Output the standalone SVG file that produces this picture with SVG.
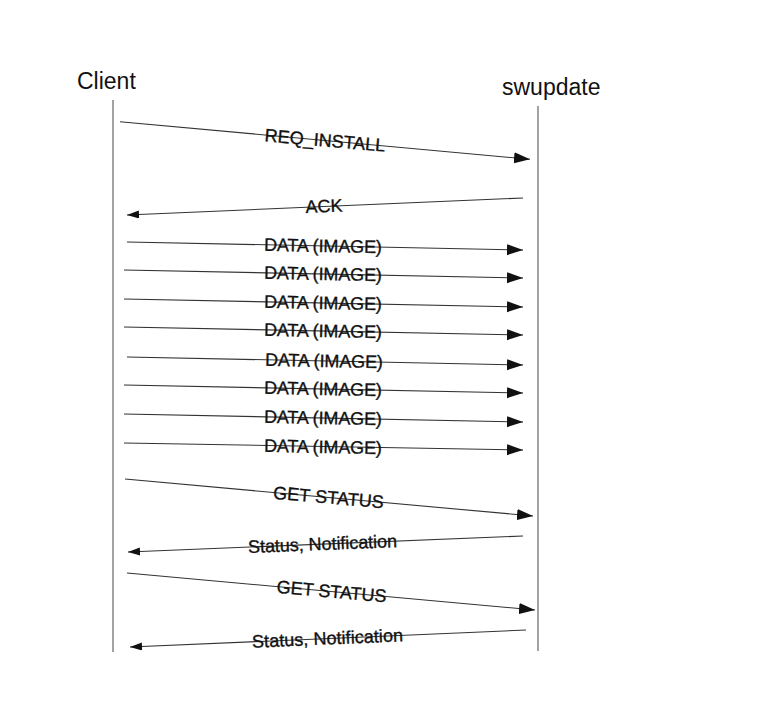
<svg xmlns="http://www.w3.org/2000/svg" width="783" height="718" viewBox="0 0 783 718">
<style>
.actor{font-family:"Liberation Sans",Arial,sans-serif;font-size:23px;fill:#111}
.lbl{font-family:"Liberation Sans",Arial,sans-serif;font-size:18px;fill:#111;stroke:#111;stroke-width:0.35;text-anchor:middle}
.life{stroke:#666;stroke-width:1.2;fill:none}
.msg{stroke:#333;stroke-width:1.1;fill:none}
.big{marker-end:url(#ab)}
.small{marker-end:url(#as)}
</style>
<defs>
<marker id="ab" markerUnits="userSpaceOnUse" markerWidth="17" markerHeight="12" refX="16" refY="5.5" orient="auto"><path d="M0,0 L16,5.5 L0,11 z" fill="#111"/></marker>
<marker id="as" markerUnits="userSpaceOnUse" markerWidth="13" markerHeight="9" refX="12" refY="4" orient="auto"><path d="M0,0 L12,4 L0,8 z" fill="#111"/></marker>
</defs>
<rect width="783" height="718" fill="#fff"/>
<g id="client">
<text class="actor" x="77" y="89">Client</text>
<line class="life" x1="113" y1="100" x2="113" y2="652"/>
</g>
<g id="swupdate">
<text class="actor" x="502" y="95">swupdate</text>
<line class="life" x1="538" y1="106" x2="538" y2="651"/>
</g>
<g id="connectors">
<line class="msg big" x1="120" y1="121.7" x2="530" y2="159.3"/>
<line class="msg small" x1="523" y1="198" x2="127" y2="215"/>
<line class="msg big" x1="127" y1="242" x2="523" y2="250"/>
<line class="msg big" x1="124" y1="270" x2="523" y2="278"/>
<line class="msg big" x1="124" y1="299" x2="523" y2="307"/>
<line class="msg big" x1="124" y1="327" x2="523" y2="335"/>
<line class="msg big" x1="127" y1="357" x2="523" y2="365"/>
<line class="msg big" x1="124" y1="385" x2="523" y2="393"/>
<line class="msg big" x1="124" y1="414" x2="523" y2="422"/>
<line class="msg big" x1="124" y1="443" x2="523" y2="450"/>
<line class="msg big" x1="125" y1="479" x2="533" y2="516"/>
<line class="msg small" x1="523" y1="536" x2="128" y2="552"/>
<line class="msg big" x1="127" y1="573" x2="535" y2="610"/>
<line class="msg small" x1="526" y1="630" x2="130" y2="647"/>
</g>
<g id="labels">
<text class="lbl" x="325" y="146.5" textLength="121" transform="rotate(4.9 325 140.5)">REQ_INSTALL</text>
<text class="lbl" x="324" y="212.3" transform="rotate(-2.46 324 206.5)">ACK</text>
<text class="lbl" x="323" y="252" textLength="118" transform="rotate(1.15 323 246)">DATA (IMAGE)</text>
<text class="lbl" x="323" y="280" textLength="118" transform="rotate(1.15 323 274)">DATA (IMAGE)</text>
<text class="lbl" x="323" y="309" textLength="118" transform="rotate(1.15 323 303)">DATA (IMAGE)</text>
<text class="lbl" x="323" y="337" textLength="118" transform="rotate(1.15 323 331)">DATA (IMAGE)</text>
<text class="lbl" x="324" y="367" textLength="118" transform="rotate(1.15 324 361)">DATA (IMAGE)</text>
<text class="lbl" x="323" y="395" textLength="118" transform="rotate(1.15 323 389)">DATA (IMAGE)</text>
<text class="lbl" x="323" y="424" textLength="118" transform="rotate(1.15 323 418)">DATA (IMAGE)</text>
<text class="lbl" x="323" y="453" textLength="118" transform="rotate(1.15 323 447)">DATA (IMAGE)</text>
<text class="lbl" x="328.5" y="503.5" textLength="111" transform="rotate(5.0 328.5 497.5)">GET STATUS</text>
<text class="lbl" x="322.5" y="550" textLength="149" transform="rotate(-2.32 322.5 544.1)">Status, Notification</text>
<text class="lbl" x="331.7" y="597.6" textLength="110" transform="rotate(5.0 331.7 591.6)">GET STATUS</text>
<text class="lbl" x="327.5" y="644.5" textLength="151" transform="rotate(-2.46 327.5 638.5)">Status, Notification</text>
</g>
</svg>
